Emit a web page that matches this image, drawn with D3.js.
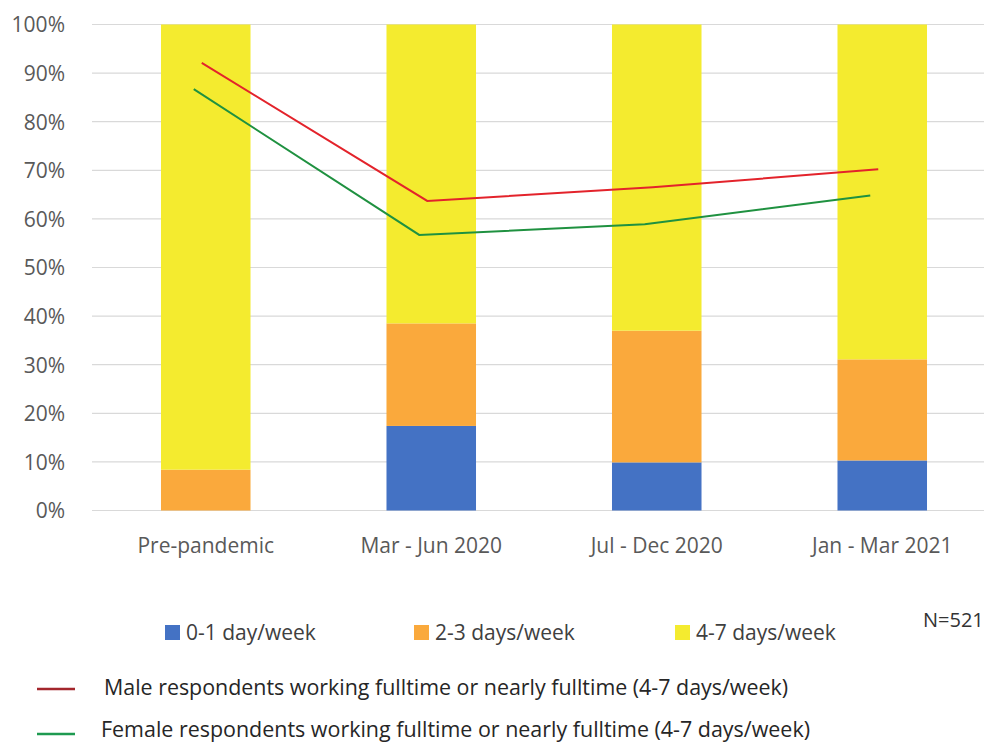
<!DOCTYPE html>
<html>
<head>
<meta charset="utf-8">
<script src="https://cdn.jsdelivr.net/npm/d3@7"></script>
<style>
  html, body { margin: 0; padding: 0; background: #fff; }
  svg { display: block; font-family: "Open Sans", "Noto Sans", sans-serif; }
</style>
</head>
<body>
<svg id="chart" width="984" height="742"></svg>
<script>
// ---- data ----
const categories = ["Pre-pandemic", "Mar - Jun 2020", "Jul - Dec 2020", "Jan - Mar 2021"];
const days01 = [0, 17.4, 9.9, 10.3];
const days23 = [8.4, 21.1, 27.1, 20.8];
const days47 = [91.6, 61.5, 63.0, 68.9];
const maleFull = [92.1, 63.7, 66.5, 70.2];
const femaleFull = [86.7, 56.7, 58.9, 64.8];
const yTicks = [0, 10, 20, 30, 40, 50, 60, 70, 80, 90, 100];
const barSeries = ["0-1 day/week", "2-3 days/week", "4-7 days/week"];
const lineSeries = [
  "Male respondents working fulltime or nearly fulltime (4-7 days/week)",
  "Female respondents working fulltime or nearly fulltime (4-7 days/week)"
];
const note = "N=521";

// ---- layout ----
const svg = d3.select("#chart");
const plot = { left: 93, right: 995, top: 24.5, bottom: 510.5 };
const barColors = ["#4472C4", "#FAA93C", "#F4EB2F"];
const lineColors = ["#E3232B", "#1F9140"];
const legendLineColors = ["#A3262C", "#1E9A50"];

const x = d3.scaleBand().domain(categories).range([plot.left, plot.right]).paddingInner(0.603).paddingOuter(0.3015);
const y = d3.scaleLinear().domain([0, 100]).range([plot.bottom, plot.top]);

// gridlines
svg.append("g").selectAll("line").data(yTicks).join("line")
  .attr("x1", plot.left - 1).attr("x2", plot.right)
  .attr("y1", d => y(d)).attr("y2", d => y(d))
  .attr("stroke", "#D9D9D9").attr("stroke-width", 1.2);

// y axis labels
const yAxis = d3.axisLeft(y).tickValues(yTicks).tickFormat(d => d + "%").tickSize(0).tickPadding(0);
const ya = svg.append("g").attr("transform", `translate(65,0)`).call(yAxis);
ya.select(".domain").remove();
ya.selectAll("text").attr("font-size", 21).attr("fill", "#595959")
  .attr("font-family", "'Open Sans', sans-serif").attr("dy", "0.35em");

// stacked bars
const rows = categories.map((c, i) => ({ cat: c, s0: days01[i], s1: days23[i], s2: days47[i] }));
const stack = d3.stack().keys(["s0", "s1", "s2"]);
const stacked = stack(rows);
svg.append("g").selectAll("g").data(stacked).join("g")
  .attr("fill", (d, i) => barColors[i])
  .selectAll("rect").data(d => d).join("rect")
  .attr("x", d => x(d.data.cat))
  .attr("width", x.bandwidth())
  .attr("y", d => y(d[1]))
  .attr("height", d => Math.max(0, y(d[0]) - y(d[1])));

// x axis labels
const xAxis = d3.axisBottom(x).tickSize(0).tickPadding(0);
const xa = svg.append("g").attr("transform", `translate(0,${plot.bottom})`).call(xAxis);
xa.select(".domain").remove();
xa.selectAll("text").attr("font-size", 21).attr("fill", "#595959")
  .attr("font-family", "'Open Sans', sans-serif").attr("dy", null).attr("y", 42);

// lines
const lineOffsets = [-4, -12];
[maleFull, femaleFull].forEach((vals, k) => {
  const line = d3.line()
    .x((d, i) => x(categories[i]) + x.bandwidth() / 2 + lineOffsets[k])
    .y(d => y(d));
  svg.append("path").datum(vals)
    .attr("d", line).attr("fill", "none")
    .attr("stroke", lineColors[k]).attr("stroke-width", 2);
});

// bar legend
const legX = [165, 414, 675];
const lg = svg.append("g");
barSeries.forEach((s, i) => {
  lg.append("rect").attr("x", legX[i]).attr("y", 625).attr("width", 15).attr("height", 15).attr("fill", barColors[i]);
  lg.append("text").attr("x", legX[i] + 21).attr("y", 640).text(s)
    .attr("font-size", 21).attr("fill", "#404040");
});
svg.append("text").attr("x", 923).attr("y", 627).text(note)
  .attr("font-size", 20).attr("fill", "#333333");

// line legend
const lineLegY = [689, 734];
const lineTextX = [104, 101];
const lineTextLen = [684, 709];
const lineTextY = [695, 737];
lineSeries.forEach((s, i) => {
  svg.append("line").attr("x1", 37).attr("x2", 75).attr("y1", lineLegY[i]).attr("y2", lineLegY[i])
    .attr("stroke", legendLineColors[i]).attr("stroke-width", 2.5);
  svg.append("text").attr("x", lineTextX[i]).attr("y", lineTextY[i]).text(s)
    .attr("font-size", 21).attr("fill", "#262626")
    .attr("textLength", lineTextLen[i]).attr("lengthAdjust", "spacingAndGlyphs");
});
</script>
</body>
</html>
